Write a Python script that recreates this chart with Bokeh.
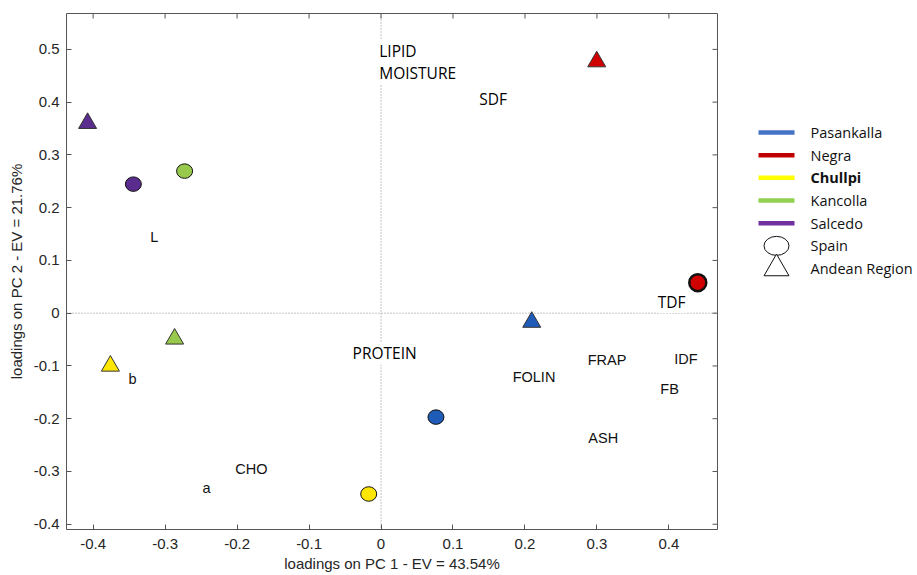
import math
from bokeh.plotting import figure
from bokeh.models import ColumnDataSource, Range1d, FixedTicker, Span
from bokeh.layouts import row
from bokeh.embed import file_html
from bokeh.resources import INLINE
from bokeh.core.properties import value

# ---------------- data ----------------
varieties = ["Pasankalla", "Negra", "Chullpi", "Kancolla", "Salcedo"]
marker_colors = ["#1F5CB8", "#D00000", "#FFE600", "#98C94C", "#5A2C8E"]
legend_colors = ["#4472C4", "#C00000", "#FFFF00", "#92D050", "#7030A0"]
origins = ["Spain", "Andean Region"]

# scores of samples grown in Spain (circles)
spain_pc1 = [0.0763, 0.4401, -0.0171, -0.2729, -0.3441]
spain_pc2 = [-0.197, 0.0578, -0.3427, 0.2693, 0.2446]
# scores of samples from the Andean region (triangles)
andean_pc1 = [0.2094, 0.2997, -0.376, -0.2868, -0.4077]
andean_pc2 = [-0.0169, 0.4768, -0.100, -0.0487, 0.360]

# variable loadings (labels set in a Calibri-like face)
vars_a = ["LIPID", "MOISTURE", "SDF", "PROTEIN", "TDF"]
vars_a_pc1 = [-0.0025, -0.0025, 0.1365, -0.0395, 0.3844]
vars_a_pc2 = [0.4967, 0.4558, 0.4066, -0.0763, 0.0214]
# variable loadings (labels set in a Helvetica-like face)
vars_b = ["L", "b", "CHO", "a", "FOLIN", "FRAP", "IDF", "FB", "ASH"]
vars_b_pc1 = [-0.3207, -0.3508, -0.2026, -0.2479, 0.1829, 0.2871, 0.4074, 0.388, 0.288]
vars_b_pc2 = [0.1445, -0.1255, -0.296, -0.331, -0.1206, -0.089, -0.0871, -0.1445, -0.2361]

x_ticks = [-0.4, -0.3, -0.2, -0.1, 0, 0.1, 0.2, 0.3, 0.4]
x_tick_labels = ["-0.4", "-0.3", "-0.2", "-0.1", "0", "0.1", "0.2", "0.3", "0.4"]
y_ticks = [-0.4, -0.3, -0.2, -0.1, 0, 0.1, 0.2, 0.3, 0.4, 0.5]
y_tick_labels = ["-0.4", "-0.3", "-0.2", "-0.1", "0", "0.1", "0.2", "0.3", "0.4", "0.5"]

x_title = "loadings on PC 1 - EV = 43.54%"
y_title = "loadings on PC 2 - EV = 21.76%"

X_MIN, X_MAX = -0.437, 0.4675
Y_MIN, Y_MAX = -0.41, 0.568

# ---------------- main plot ----------------
TICK_FONT = "Liberation Sans"
CAL_FONT = "Open Sans"
TXT = "#262626"
BOX = "#555555"

p = figure(frame_width=651, frame_height=516,
           x_range=Range1d(X_MIN, X_MAX), y_range=Range1d(Y_MIN, Y_MAX),
           output_backend="svg", toolbar_location=None,
           min_border_left=66, min_border_right=4, min_border_top=13, min_border_bottom=45)
p.grid.visible = False
p.outline_line_color = BOX
p.outline_line_width = 1
p.background_fill_color = "white"
p.border_fill_color = "white"

for ax, ticks, labels in ((p.xaxis[0], x_ticks, x_tick_labels), (p.yaxis[0], y_ticks, y_tick_labels)):
    ax.ticker = FixedTicker(ticks=ticks)
    ax.major_label_overrides = {t: s for t, s in zip(ticks, labels)}
    ax.axis_line_color = None
    ax.major_tick_in = 5
    ax.major_tick_out = 0
    ax.major_tick_line_color = BOX
    ax.minor_tick_line_color = None
    ax.major_label_text_font = TICK_FONT
    ax.major_label_text_font_size = "15px"
    ax.major_label_text_color = TXT
    ax.axis_label_text_font = TICK_FONT
    ax.axis_label_text_font_size = "15px"
    ax.axis_label_text_font_style = "normal"
    ax.axis_label_text_color = TXT

p.xaxis.axis_label = x_title
p.yaxis.axis_label = y_title
p.xaxis.major_label_standoff = 9
p.xaxis.axis_label_standoff = 3
p.yaxis.major_label_standoff = 7
p.yaxis.axis_label_standoff = 6

# inward ticks on the top and right sides of the box (half of each dash is clipped by the frame)
p.scatter(x=x_ticks, y=[Y_MAX] * len(x_ticks), marker="dash", angle=math.pi / 2,
          size=10, line_color=BOX, line_width=1)
p.scatter(x=[X_MAX] * len(y_ticks), y=y_ticks, marker="dash",
          size=10, line_color=BOX, line_width=1)

# dotted zero lines
for dim in ("width", "height"):
    p.add_layout(Span(location=0, dimension=dim, line_color="#8a8a8a",
                      line_dash="1 2", line_width=1, level="underlay"))

# sample scores
spain = ColumnDataSource(dict(x=spain_pc1, y=spain_pc2, c=marker_colors,
                              lw=[2.5 if v == "Negra" else 1.0 for v in varieties],
                              w=[17 if v == "Negra" else 16 for v in varieties],
                              h=[17 if v == "Negra" else 14.5 for v in varieties]))
p.ellipse(x="x", y="y", width="w", height="h", width_units="screen", height_units="screen",
          source=spain, fill_color="c", line_color="#111111", line_width="lw")

andean = ColumnDataSource(dict(x=andean_pc1, y=andean_pc2, c=marker_colors))
p.scatter(x="x", y="y", marker="triangle", size=18, source=andean,
          fill_color="c", line_color="#333333", line_width=1)

# variable labels
src_a = ColumnDataSource(dict(x=vars_a_pc1, y=vars_a_pc2, t=vars_a))
p.text(x="x", y="y", text="t", source=src_a, text_font=value(CAL_FONT),
       text_font_size="15.5px", text_color="#000000", text_align="left",
       text_baseline="middle", background_fill_color="white", padding=0)
src_b = ColumnDataSource(dict(x=vars_b_pc1, y=vars_b_pc2, t=vars_b))
p.text(x="x", y="y", text="t", source=src_b, text_font=value(TICK_FONT),
       text_font_size="14.5px", text_color="#111111", text_align="left",
       text_baseline="middle", background_fill_color="white", padding=0)

# ---------------- legend panel ----------------
leg_labels = varieties + origins
leg = figure(frame_width=194, frame_height=516, x_range=Range1d(0, 194),
             y_range=Range1d(17.51, -5.249),
             output_backend="svg", toolbar_location=None,
             min_border_left=0, min_border_right=0, min_border_top=13, min_border_bottom=45)
leg.axis.visible = False
leg.grid.visible = False
leg.outline_line_color = None

rows_c = list(range(len(varieties)))
leg.segment(x0=[37] * len(rows_c), x1=[73] * len(rows_c), y0=rows_c, y1=rows_c,
            line_color=legend_colors, line_width=4.5)
leg.ellipse(x=[55], y=[len(varieties)], width=25, height=19, width_units="screen",
            height_units="screen", fill_color="white", line_color="#111111", line_width=1)
leg.scatter(x=[55], y=[len(varieties) + 1], marker="triangle", size=25,
            fill_color="white", line_color="#111111", line_width=1)
leg_src = ColumnDataSource(dict(x=[89] * len(leg_labels), y=list(range(len(leg_labels))),
                                t=leg_labels,
                                fs=["bold" if s == "Chullpi" else "normal" for s in leg_labels]))
leg.text(x="x", y="y", text="t", source=leg_src, text_font=value(CAL_FONT),
         text_font_size="14.5px", text_font_style="fs", text_color="#111111",
         text_align="left", text_baseline="middle")

layout = row(p, leg)
open("out.html", "w").write(file_html(layout, INLINE))
